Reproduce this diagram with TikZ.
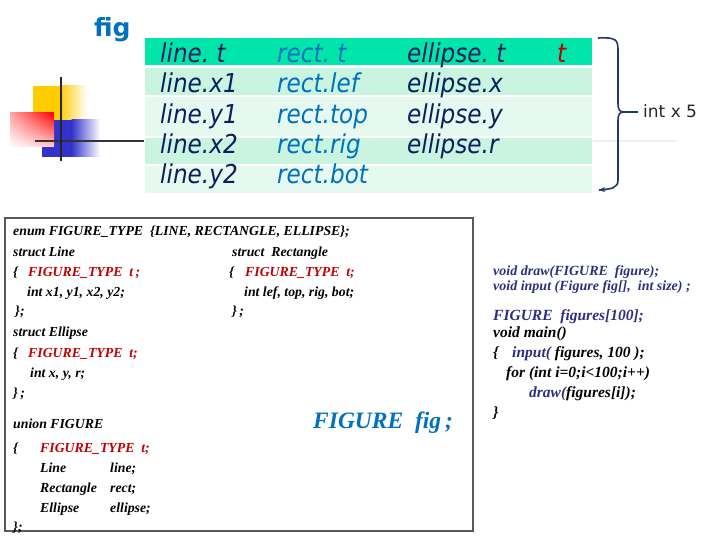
\documentclass[tikz,border=0pt]{standalone}
\usepackage{fontspec}
\setmainfont{Liberation Serif}
\newfontfamily\verd{DejaVu Sans}
\usetikzlibrary{arrows.meta,shadings}
\definecolor{navy}{RGB}{12,30,92}
\definecolor{codenavy}{RGB}{43,47,127}
\definecolor{mblue}{RGB}{0,112,192}
\definecolor{cred}{RGB}{192,0,0}
\definecolor{hdr}{RGB}{0,229,170}
\definecolor{rowa}{RGB}{200,244,224}
\definecolor{rowb}{RGB}{230,249,241}
\definecolor{bracec}{RGB}{31,56,110}
\definecolor{lyellow}{RGB}{255,204,0}
\definecolor{lblue}{RGB}{51,51,204}
\newcommand{\tabtxt}[1]{\scalebox{0.89}[1]{#1}}
\tikzset{
  tt/.style={anchor=base west,inner sep=0pt,font=\verd\itshape\fontsize{26}{26}\selectfont},
  ln/.style={tt,text=navy},
  rc/.style={tt,text=mblue},
  code/.style={anchor=base west,inner sep=0pt,font=\bfseries\itshape\fontsize{13.8}{14}\selectfont},
  rcode/.style={code,text=cred},
  bcode/.style={anchor=base west,inner sep=0pt,font=\bfseries\itshape\fontsize{15.5}{16}\selectfont},
  scode/.style={anchor=base west,inner sep=0pt,font=\bfseries\itshape\fontsize{14}{14}\selectfont,text=codenavy},
  boxline/.style={draw=black!65,line width=1.6pt},
  bracestyle/.style={draw=bracec,line width=1.6pt},
}
\begin{document}
\begin{tikzpicture}[x=1pt,y=-1pt]
\useasboundingbox (0,0) rectangle (720,540);
% logo
\fill[lyellow] (33,86) rectangle (60,120);
\shade[left color=lyellow,right color=white] (59.5,86) rectangle (87,120);
\fill[lblue] (42,120) rectangle (72,157);
\shade[left color=lblue,right color=white] (71.5,120) rectangle (100,157);
\shade[upper left=red!35,upper right=red,lower left=white,lower right=red!20] (10,113) rectangle (54,147);
\draw[black!80,line width=1.8pt] (35,141) -- (144,141);
\draw[black!85,line width=1.8pt] (61,77) -- (61,161);
\draw[black!6,line width=1.5pt] (593,141) -- (677,141);
% fig label
\node[anchor=base west,inner sep=0pt,text=mblue,font=\verd\bfseries\fontsize{25}{25}\selectfont] (figlabel) at (94,37) {fig};
% table rows
\fill[hdr] (145,38) rectangle (592,65);
\fill[rowa] (145,68) rectangle (592,95);
\fill[rowb] (145,97) rectangle (592,136);
\fill[rowa] (145,138) rectangle (592,164);
\fill[rowb] (145,166) rectangle (592,193);
\node[ln] (l0) at (160,63) {\tabtxt{line.\ t}};
\node[rc] (r0) at (277,63) {\tabtxt{rect.\ t}};
\node[ln] (e0) at (407,63) {\tabtxt{ellipse.\ t}};
\node[tt,text=cred] (t0) at (557,63) {\tabtxt{t}};
\node[ln] (l1) at (160,93) {\tabtxt{line.x1}};
\node[rc] (r1) at (277,93) {\tabtxt{rect.lef}};
\node[ln] (e1) at (407,93) {\tabtxt{ellipse.x}};
\node[ln] (l2) at (160,124) {\tabtxt{line.y1}};
\node[rc] (r2) at (277,124) {\tabtxt{rect.top}};
\node[ln] (e2) at (407,124) {\tabtxt{ellipse.y}};
\node[ln] (l3) at (160,154) {\tabtxt{line.x2}};
\node[rc] (r3) at (277,154) {\tabtxt{rect.rig}};
\node[ln] (e3) at (407,154) {\tabtxt{ellipse.r}};
\node[ln] (l4) at (160,184) {\tabtxt{line.y2}};
\node[rc] (r4) at (277,184) {\tabtxt{rect.bot}};
% brace
\coordinate (btop) at (598,38);
\coordinate (bcusp) at (624,112);
\coordinate (bbot) at (599,190);
\coordinate (bend) at (638,112);
\draw[bracestyle] (btop) .. controls (616,37) and (618,40) .. (618,50) -- (618,104) .. controls (618,110) and (620,112) .. (bcusp)
  .. controls (620,112) and (618,114) .. (618,120) -- (618,180) .. controls (618,188) and (612,189) .. (bbot);
\draw[bracestyle,-{Stealth[length=6pt,width=5pt]}] (606,189.5) -- (bbot);
\draw[bracestyle] (bcusp) -- (bend);
\node[anchor=base west,inner sep=0pt,text=black!85,font=\verd\fontsize{17}{17}\selectfont] (int5) at (643,118) {int x 5};
% code box
\draw[boxline] (5,218) rectangle (473,531);
\node[code] (c1) at (13,236) {enum FIGURE\_TYPE\ \ \{LINE, RECTANGLE, ELLIPSE\};};
\node[code] (c2) at (13,256) {struct Line};
\node[code] (c2r) at (232,256) {struct\ \ Rectangle};
\node[code] (c3a) at (13,276) {\{};
\node[rcode] (c3) at (28,276) {FIGURE\_TYPE\ \ t\,;};
\node[code] (c3ra) at (229,276) {\{};
\node[rcode] (c3r) at (245,276) {FIGURE\_TYPE\ \ t;};
\node[code] (c4) at (27,296) {int x1, y1, x2, y2;};
\node[code] (c4r) at (244,296) {int lef, top, rig, bot;};
\node[code] (c5) at (15,315) {\};};
\node[code] (c5r) at (232,315) {\}\,;};
\node[code] (c6) at (13,336) {struct Ellipse};
\node[code] (c7a) at (13,357) {\{};
\node[rcode] (c7) at (28,357) {FIGURE\_TYPE\ \ t;};
\node[code] (c8) at (30,377) {int x, y, r;};
\node[code] (c9) at (13,397) {\}\,;};
\node[code] (c10) at (13,428) {union FIGURE};
\node[code] (c11a) at (13,452) {\{};
\node[rcode] (c11) at (40,452) {FIGURE\_TYPE\ \ t;};
\node[code] (c12) at (40,472) {Line};
\node[code] (c12b) at (110,472) {line;};
\node[code] (c13) at (40,492) {Rectangle};
\node[code] (c13b) at (110,492) {rect;};
\node[code] (c14) at (40,512) {Ellipse};
\node[code] (c14b) at (110,512) {ellipse;};
\node[code] (c15) at (13,531) {\};};
\node[anchor=base west,inner sep=0pt,text=mblue,font=\bfseries\itshape\fontsize{23.5}{24}\selectfont] (figvar) at (313,428) {FIGURE\ \ fig\,;};
% right code
\node[scode] (d1) at (493,275) {void draw(FIGURE\ \ figure);};
\node[scode] (d2) at (493,290) {void input (Figure fig[],\ \ int size) ;};
\node[bcode,text=codenavy] (d3) at (493,320) {FIGURE\ \ figures[100];};
\node[bcode] (d4) at (493,337) {void main()};
\node[bcode] (d5a) at (493,357) {\{};
\node[bcode] (d5) at (512,357) {{\color{codenavy}input(} figures, 100 );};
\node[bcode] (d6) at (506,377) {for (int i=0;i<100;i++)};
\node[bcode] (d7) at (529,397) {{\color{codenavy}draw(}figures[i]);};
\node[bcode] (d8) at (493,417) {\}};
\end{tikzpicture}
\end{document}
